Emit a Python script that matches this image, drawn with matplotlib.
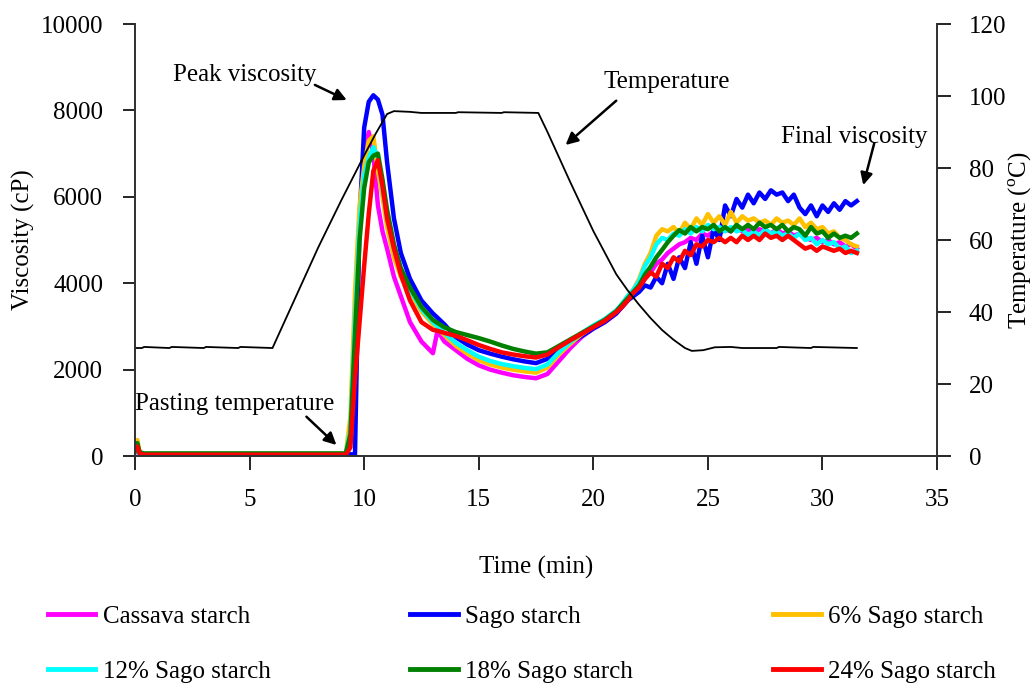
import matplotlib
matplotlib.use("Agg")
import matplotlib.pyplot as plt
from matplotlib.lines import Line2D

plt.rcParams['font.family'] = ['Liberation Serif', 'DejaVu Serif']
plt.rcParams['mathtext.fontset'] = 'custom'
plt.rcParams['mathtext.rm'] = 'Liberation Serif'

# sample times (min) for the viscosity traces
time = [0, 0.1, 0.2, 0.4, 9.2, 9.4, 9.6, 9.8, 10.0, 10.2, 10.4, 10.6, 10.8, 11.0, 11.3, 11.6,
        12.0, 12.5, 13.0, 13.2, 13.5, 14.0, 14.5, 15.0, 15.5, 16.0, 16.5, 17.0, 17.5, 18.0,
        18.5, 19.0, 19.5, 20.0, 20.5, 21.0,
        21.25, 21.5, 21.75, 22.0, 22.25, 22.5, 22.75, 23.0, 23.25, 23.5, 23.75, 24.0, 24.25,
        24.5, 24.75, 25.0, 25.25, 25.5, 25.75, 26.0, 26.25, 26.5, 26.75, 27.0, 27.25, 27.5,
        27.75, 28.0, 28.25, 28.5, 28.75, 29.0, 29.25, 29.5, 29.75, 30.0, 30.25, 30.5, 30.75,
        31.0, 31.25, 31.5]

cassava = [100, 250, 60, 40, 40, 400, 3000, 5500, 6900, 7500, 7000, 5800, 5200, 4800, 4150, 3700,
           3100, 2650, 2380, 2900, 2650, 2450, 2250, 2100, 2000, 1930, 1870, 1830, 1800, 1900,
           2200, 2500, 2760, 2950, 3100, 3300,
           3450, 3600, 3780, 3900, 4100, 4250, 4450, 4550, 4700, 4800, 4900, 4950, 5050,
           5000, 5150, 5100, 5200, 5150, 5250, 5200, 5300, 5200, 5250, 5150, 5250, 5200,
           5150, 5250, 5150, 5200, 5100, 5150, 5050, 5000, 5050, 4950, 5000, 4900, 4950,
           4850, 4900, 4800]

sago = [100, 250, 60, 40, 40, 40, 40, 5500, 7600, 8200, 8350, 8250, 7900, 6800, 5500, 4700,
        4100, 3600, 3300, 3200, 3050, 2750, 2580, 2450, 2370, 2300, 2240, 2190, 2150, 2250,
        2450, 2620, 2780, 2950, 3100, 3300,
        3450, 3600, 3700, 3800, 3950, 3900, 4150, 4000, 4450, 4100, 4600, 4350, 4950,
        4450, 5100, 4600, 5250, 5000, 5800, 5550, 5950, 5750, 6050, 5850, 6100, 5950,
        6150, 6050, 6100, 5900, 6050, 5750, 5600, 5800, 5550, 5800, 5650, 5850, 5700,
        5900, 5800, 5900]

sago6 = [150, 370, 80, 50, 50, 900, 3800, 5800, 6700, 7300, 7400, 6600, 6000, 5300, 4600, 4150,
         3750, 3350, 3050, 2950, 2800, 2550, 2370, 2220, 2120, 2050, 2000, 1960, 1930, 2050,
         2350, 2600, 2820, 3000, 3150, 3350,
         3500, 3700, 3850, 4100, 4450, 4700, 5100, 5250, 5200, 5300, 5150, 5400, 5250,
         5500, 5350, 5600, 5400, 5550, 5350, 5650, 5400, 5550, 5450, 5500, 5400, 5450,
         5350, 5500, 5400, 5450, 5350, 5500, 5300, 5400, 5250, 5300, 5150, 5200, 5050,
         5000, 4900, 4850]

sago12 = [100, 250, 70, 45, 45, 600, 3200, 5400, 6500, 6900, 7150, 6900, 6200, 5500, 4800, 4300,
          3850, 3400, 3100, 3000, 2850, 2620, 2450, 2300, 2200, 2130, 2080, 2040, 2010, 2120,
          2400, 2640, 2850, 3020, 3170, 3370,
          3520, 3700, 3850, 4050, 4400, 4600, 4900, 5050, 5000, 5150, 5100, 5250, 5150,
          5300, 5200, 5350, 5250, 5300, 5200, 5300, 5200, 5250, 5100, 5200, 5100, 5250,
          5150, 5200, 5100, 5150, 5050, 5150, 5000, 5050, 4900, 5000, 4900, 4950, 4800,
          4850, 4700, 4750]

sago18 = [120, 300, 90, 60, 60, 500, 2800, 5000, 6200, 6800, 6950, 7000, 6400, 5700, 4900, 4350,
          3900, 3450, 3150, 3080, 2980, 2870, 2800, 2730, 2650, 2560, 2480, 2420, 2370, 2400,
          2550, 2700, 2850, 3000, 3150, 3350,
          3500, 3650, 3800, 3950, 4200, 4380, 4600, 4770, 4950, 5100, 5230, 5150, 5300,
          5200, 5300, 5250, 5350, 5200, 5300, 5200, 5350, 5250, 5350, 5250, 5400, 5300,
          5350, 5250, 5350, 5200, 5300, 5250, 5100, 5300, 5150, 5200, 5050, 5150, 5050,
          5100, 5050, 5150]

sago24 = [200, 220, 60, 30, 30, 200, 1800, 3100, 4400, 5600, 6600, 6850, 6250, 5500, 4800, 4200,
          3600, 3100, 2920, 2900, 2850, 2780, 2680, 2570, 2480, 2400, 2350, 2310, 2280, 2350,
          2520, 2680, 2830, 2980, 3130, 3330,
          3450, 3600, 3780, 3900, 4100, 4250, 4150, 4450, 4350, 4600, 4500, 4750, 4650,
          4900, 4850, 5000, 4950, 5050, 4950, 5050, 4950, 5100, 5000, 5100, 5000, 5150,
          5050, 5100, 5000, 5100, 5000, 4900, 4800, 4850, 4750, 4850, 4800, 4750, 4800,
          4700, 4750, 4700]

# temperature profile
temp_time = [0, 0.3, 0.4, 1.5, 1.6, 3.0, 3.1, 4.5, 4.6, 6.0, 7.0, 8.0, 9.0, 10.0, 10.5, 11.0,
             11.3, 12.0, 12.5, 14.0, 14.1, 16.0, 16.1, 17.6, 18.0, 19.0, 20.0, 21.0, 21.5,
             22.0, 22.5, 23.0, 23.5, 24.0, 24.3, 24.8, 25.3, 26.0, 26.5, 28.0, 28.1, 29.5,
             29.6, 31.5]
temp = [30, 30, 30.3, 30, 30.3, 30, 30.3, 30, 30.3, 30, 44, 58, 71, 83.5, 89.5, 95,
        95.8, 95.6, 95.3, 95.3, 95.5, 95.3, 95.5, 95.3, 90, 76, 62.5, 50.5, 46,
        42, 38.3, 35, 32.3, 30, 29.2, 29.4, 30.2, 30.3, 30, 30, 30.3, 30,
        30.3, 30]

labels = ['Cassava starch', 'Sago starch', '6% Sago starch',
          '12% Sago starch', '18% Sago starch', '24% Sago starch']
colors = ['#FF00FF', '#0000FF', '#FFC000', '#00FFFF', '#008000', '#FF0000']
series = [cassava, sago, sago6, sago12, sago18, sago24]

fig = plt.figure(figsize=(10.33, 6.84), dpi=100)
ax = fig.add_axes([0.1307, 0.3333, 0.7764, 0.6316])
ax2 = ax.twinx()

for y, c, lab in zip(series, colors, labels):
    ax.plot(time, y, color=c, lw=3.2, label=lab, solid_joinstyle='round')

ax2.plot(temp_time, temp, color='black', lw=1.3)

ax.set_xlim(0, 35)
ax.set_ylim(0, 10000)
ax2.set_ylim(0, 120)
ax.set_xticks([0, 5, 10, 15, 20, 25, 30, 35])
ax.set_yticks([0, 2000, 4000, 6000, 8000, 10000])
ax2.set_yticks([0, 20, 40, 60, 80, 100, 120])

for a in (ax, ax2):
    a.spines['top'].set_visible(False)
    for s in a.spines.values():
        s.set_linewidth(1.3)
        s.set_color('#333333')
ax.tick_params(axis='x', direction='out', length=10, width=1.2, pad=14, labelsize=18)
ax.tick_params(axis='y', direction='out', length=9, width=1.2, pad=14, labelsize=18)
ax2.tick_params(axis='y', direction='out', length=10, width=1.2, pad=13, labelsize=18)

ax.set_xlabel('Time (min)', fontsize=18, labelpad=32)
ax.set_ylabel('Viscosity (cP)', fontsize=18, labelpad=4)
ax2.set_ylabel('Temperature ($^{\\mathrm{o}}$C)', fontsize=18, labelpad=0)

arrow = dict(arrowstyle='-|>', color='black', lw=1.8, mutation_scale=18, shrinkA=0, shrinkB=0)
ax.text(1.65, 8820, 'Peak viscosity', fontsize=18, ha='left', va='center')
ax.annotate('', xy=(9.24, 8240), xytext=(7.85, 8590), arrowprops=arrow)
ax.text(23.2, 8660, 'Temperature', fontsize=18, ha='center', va='center')
ax.annotate('', xy=(18.79, 7200), xytext=(21.0, 8225), arrowprops=arrow)
ax.text(31.4, 7390, 'Final viscosity', fontsize=18, ha='center', va='center')
ax.annotate('', xy=(31.78, 6270), xytext=(32.26, 7240), arrowprops=arrow)
ax.text(0, 1200, 'Pasting temperature', fontsize=18, ha='left', va='center')
ax.annotate('', xy=(8.79, 255), xytext=(7.48, 910), arrowprops=arrow)

handles = [Line2D([], [], color=c, lw=3.5) for c in colors]
order = [0, 3, 1, 4, 2, 5]
fig.legend([handles[i] for i in order], [labels[i] for i in order], ncol=3,
           loc='upper left', bbox_to_anchor=(0.046, 0.115), frameon=False,
           fontsize=18, handlelength=1.9, handletextpad=0.3, columnspacing=5.6,
           labelspacing=1.3, borderpad=0, borderaxespad=0)

fig.savefig('out.png', dpi=100)
